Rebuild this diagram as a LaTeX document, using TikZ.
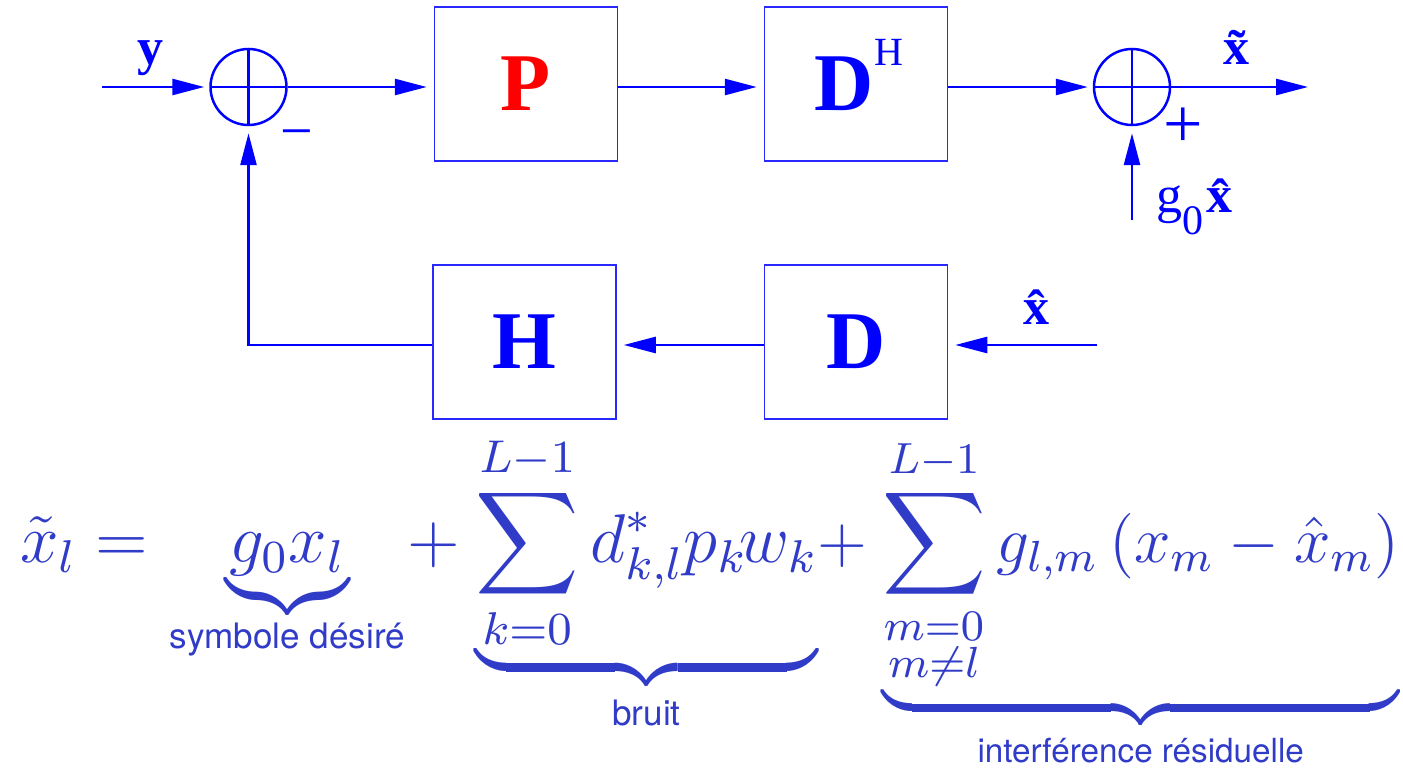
\documentclass[tikz,border=0pt]{standalone}
\usepackage{amsmath}
\usepackage{graphicx}
\usepackage[no-math]{fontspec}
\setmainfont{Liberation Serif}
\setsansfont{TeX Gyre Heros}
\usetikzlibrary{arrows.meta}
\DeclareFontShape{OMX}{cmex}{m}{n}{<-> cmex10}{}
\definecolor{eqblue}{RGB}{48,60,200}
\definecolor{boxblue}{RGB}{40,40,255}
\newcommand\lab{\sffamily\fontsize{6.1}{7}\selectfont}
\newcommand\eqsize{\fontsize{12}{14.5}\selectfont}
\newcommand\eqbox[2][5.75]{\scalebox{#1}{\eqsize$#2$}}
% label under a brace, lifted by #1 without changing its box
\newcommand\bracelab[2]{\makebox[0pt]{\lab\raisebox{#1}[\height][\depth]{#2}}}
% lower limit whose ink is lifted by #1, box unchanged
\newcommand\uplim[2]{\setbox0=\hbox{$\scriptstyle#2$}%
  \dimen0=\ht0 \dimen2=\dp0
  \setbox2=\hbox{\raise#1\box0}%
  \ht2=\dimen0 \dp2=\dimen2 \box2}
% underbrace with an adjustable gap above the brace
\makeatletter
\newcommand\ubr[2][3pt]{\mathop{\vtop{\m@th\ialign{##\crcr
  $\hfil\displaystyle{#2}\hfil$\crcr\noalign{\kern#1\nointerlineskip}%
  \upbracefill\crcr\noalign{\kern3\p@}}}}\limits}
\makeatother
\newcommand\bigsum[1]{\mathop{\scalebox{#1}{$\displaystyle\sum$}}\limits}
\begin{document}
\begin{tikzpicture}[x=1pt,y=-1pt,
  blk/.style={draw=boxblue, line width=1.5pt, minimum width=183pt, minimum height=154pt,
    inner sep=0pt, font=\bfseries\fontsize{82}{82}\selectfont, text=blue},
  sumj/.style={circle, draw=blue, line width=2.5pt, minimum size=76pt, inner sep=0pt,
    path picture={\draw[blue,line width=2.5pt]
      (path picture bounding box.north) -- (path picture bounding box.south)
      (path picture bounding box.west) -- (path picture bounding box.east);}},
  arr/.style={draw=blue, line width=2.6pt, -{Triangle[length=32pt,width=16pt]}},
  lbl/.style={text=blue, inner sep=0pt, font=\fontsize{53}{53}\selectfont},
  lblb/.style={text=blue, inner sep=0pt, font=\bfseries\fontsize{52}{52}\selectfont},
  eq/.style={text=eqblue, inner sep=0pt, anchor=base west},
]
\useasboundingbox (0,0) rectangle (1403,770);

% blocks
\node[sumj] (s1) at (248.5,87) {};
\node[sumj] (s2) at (1132,87) {};
\node[blk, text=red] (P) at (526,84) {\raisebox{-6pt}{P}};
\node[blk] (DH) at (856,84) {\hspace{6pt}\raisebox{-3pt}{D}\smash{\raisebox{42pt}{\mdseries\fontsize{40}{40}\selectfont H}}};
\node[blk] (D) at (856,342) {D};
\node[blk] (H) at (524.5,342) {H};

\coordinate (in1) at (102,87);
\coordinate (out) at (1308,87);
\coordinate (g0in) at (1132,220);
\coordinate (xin) at (1097,345);

% connectors
\draw[arr, shorten >=5pt] (in1) -- (s1.west);
\draw[arr, shorten >=7pt] (s1.east) -- (s1.east -| P.west);
\draw[arr, shorten >=7pt] (P.east |- s1) -- (DH.west |- s1);
\draw[arr, shorten >=5pt] (DH.east |- s2) -- (s2.west);
\draw[arr] (s2.east) -- (out);
\draw[arr, shorten >=7pt] (g0in) -- (s2.south);
\draw[arr, shorten >=7pt] (xin) -- (xin -| D.east);
\draw[arr, shorten >=7pt] (D.west |- xin) -- (H.east |- xin);
\draw[arr, shorten >=7pt] (H.west |- xin) -| (s1.south);

% labels
\node[lblb] (ly) at (150,58) {y};
\node[lbl, anchor=base, font=\fontsize{58}{58}\selectfont] (lminus) at (297,151) {−};
\node[lbl, anchor=base, font=\fontsize{70}{70}\selectfont] (lplus) at (1183,148) {+};
\node[lblb] (lxt) at (1236,47) {\~{x}};
\node[lblb] (lxh) at (1036,307) {\^{x}};
\node[lbl, anchor=base west, font=\fontsize{52}{52}\selectfont] (lg) at (1156,213)
  {g\raisebox{-22pt}{\fontsize{42}{42}\selectfont 0}\hspace{3pt}\textbf{\^{x}}};

% equation
\node[eq] (e1) at (20,562) {\eqbox{\tilde{x}_l =}};
\node[eq] (e2) at (225,562) {\eqbox{\ubr{g_0x_l}_{\bracelab{1.9pt}{symbole désiré}}}};
\node[eq] (e3) at (392,562) {\eqbox{{}+\ubr[-0.3pt]{\bigsum{1.04}_{\uplim{2.3pt}{k=0}}^{L-1} d^*_{k,l}p_k\mkern-2mu w_k}_{\bracelab{0.9pt}{bruit}}}};
\node[eq] (e4) at (803,562) {\eqbox[5.45]{{}+\ubr[2.1pt]{\bigsum{1.1}_{\uplim{0.9pt}{\substack{m=0\\ m\neq l}}}^{L-1} g_{l,m}\left(x_m-\hat{x}_m\right)}_{\bracelab{0.9pt}{interférence résiduelle}}}};
\end{tikzpicture}
\end{document}
